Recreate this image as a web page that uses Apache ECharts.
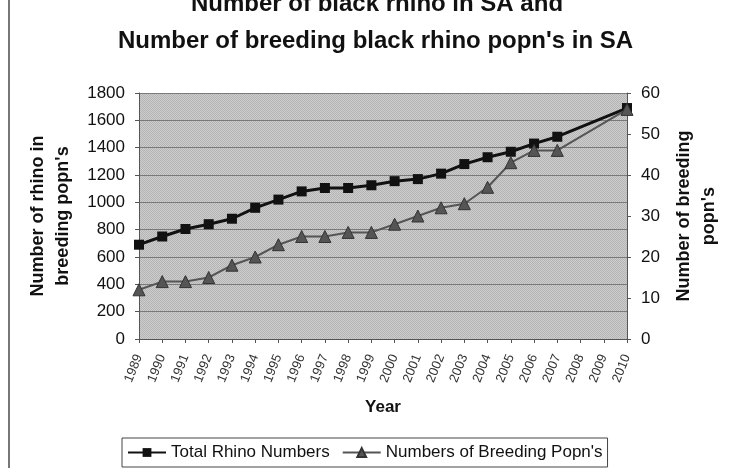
<!DOCTYPE html>
<html>
<head>
<meta charset="utf-8">
<script src="https://cdn.jsdelivr.net/npm/echarts@6/dist/echarts.min.js"></script>
<style>
html,body{margin:0;padding:0;background:#fff;}
#chart{width:730px;height:471px;}
</style>
</head>
<body>
<div id="chart"></div>
<script>
var years = ['1989','1990','1991','1992','1993','1994','1995','1996','1997','1998','1999','2000','2001','2002','2003','2004','2005','2006','2007','2008','2009','2010'];
var totalRhino = [690, 750, 805, 840, 880, 960, 1020, 1080, 1105, 1105, 1125, 1155, 1170, 1210, 1280, 1330, 1370, 1430, 1480, null, null, 1690];
var breedingPopns = [12, 14, 14, 15, 18, 20, 23, 25, 25, 26, 26, 28, 30, 32, 33, 37, 43, 46, 46, null, null, 56];
var leftTicks = [0, 1800, 200];
var rightTicks = [0, 60, 10];

var FONT = "'Liberation Sans', Arial, Helvetica, sans-serif";

var pc = document.createElement('canvas');
pc.width = 2; pc.height = 2;
var g = pc.getContext('2d');
g.fillStyle = '#cdcdcd'; g.fillRect(0,0,2,2);
g.fillStyle = '#b4b4b4'; g.fillRect(0,0,1,1); g.fillRect(1,1,1,1);

var chart = echarts.init(document.getElementById('chart'), null, {renderer:'canvas'});
chart.setOption({
  animation: false,
  backgroundColor: '#ffffff',
  title: [
    {text: 'Number of black rhino in SA and', left: 191, top: -8, padding: 0,
     textStyle: {fontFamily: FONT, fontWeight: 'bold', fontSize: 24, lineHeight: 24, color: '#111'}},
    {text: "Number of breeding black rhino popn's in SA", left: 118, top: 29, padding: 0,
     textStyle: {fontFamily: FONT, fontWeight: 'bold', fontSize: 24, lineHeight: 24, color: '#111'}}
  ],
  graphic: [{type: 'line', shape: {x1: 9, y1: 0, x2: 9, y2: 468}, style: {stroke: '#777', lineWidth: 2}}],
  grid: {left: 139, right: 97, top: 93, bottom: 132, show: true, backgroundColor: {image: pc, repeat: 'repeat'}, borderWidth: 0},
  legend: {
    left: 122, top: 438, padding: [6, 5, 6, 5], itemGap: 12, itemWidth: 38, itemHeight: 11,
    borderColor: '#444', borderWidth: 1,
    textStyle: {fontFamily: FONT, fontSize: 17, color: '#111'},
    data: ['Total Rhino Numbers', "Numbers of Breeding Popn's"]
  },
  xAxis: {
    type: 'category', data: years, boundaryGap: false,
    name: 'Year', nameLocation: 'middle', nameGap: 60,
    nameTextStyle: {fontFamily: FONT, fontWeight: 'bold', fontSize: 17, color: '#111'},
    axisLine: {lineStyle: {color: '#555', width: 1}},
    axisTick: {show: true, length: 4, inside: false, lineStyle: {color: '#555'}},
    axisLabel: {rotate: 68, margin: 16, interval: 0, fontFamily: FONT, fontSize: 13, color: '#333'},
    splitLine: {show: false}
  },
  yAxis: [
    {
      type: 'value', min: leftTicks[0], max: leftTicks[1], interval: leftTicks[2], position: 'left',
      name: "Number of rhino in\nbreeding popn's", nameLocation: 'middle', nameGap: 63,
      nameTextStyle: {fontFamily: FONT, fontWeight: 'bold', fontSize: 18, lineHeight: 25, color: '#111'},
      axisLine: {show: true, lineStyle: {color: '#555'}},
      axisTick: {show: true, length: 4, lineStyle: {color: '#555'}},
      axisLabel: {margin: 14, fontFamily: FONT, fontSize: 17, color: '#111', formatter: function (v) { return String(v); }},
      splitLine: {show: true, lineStyle: {color: '#7a7a7a', width: 1}}
    },
    {
      type: 'value', min: rightTicks[0], max: rightTicks[1], interval: rightTicks[2], position: 'right',
      name: "Number of breeding\npopn's", nameLocation: 'middle', nameGap: 45,
      nameTextStyle: {fontFamily: FONT, fontWeight: 'bold', fontSize: 18, lineHeight: 25, color: '#111'},
      axisLine: {show: true, lineStyle: {color: '#555'}},
      axisTick: {show: true, length: 4, lineStyle: {color: '#555'}},
      axisLabel: {margin: 14, fontFamily: FONT, fontSize: 17, color: '#111', formatter: function (v) { return String(v); }},
      splitLine: {show: false}
    }
  ],
  series: [
    {
      name: 'Total Rhino Numbers', type: 'line', yAxisIndex: 0, data: totalRhino, connectNulls: true,
      symbol: 'rect', symbolSize: 10,
      lineStyle: {color: '#111', width: 3},
      itemStyle: {color: '#111', borderColor: '#000', borderWidth: 0},
      z: 3
    },
    {
      name: "Numbers of Breeding Popn's", type: 'line', yAxisIndex: 1, data: breedingPopns, connectNulls: true,
      symbol: 'triangle', symbolSize: 12,
      lineStyle: {color: '#555', width: 2},
      itemStyle: {color: '#555', borderColor: '#333', borderWidth: 1},
      z: 4
    }
  ]
});
</script>
</body>
</html>
